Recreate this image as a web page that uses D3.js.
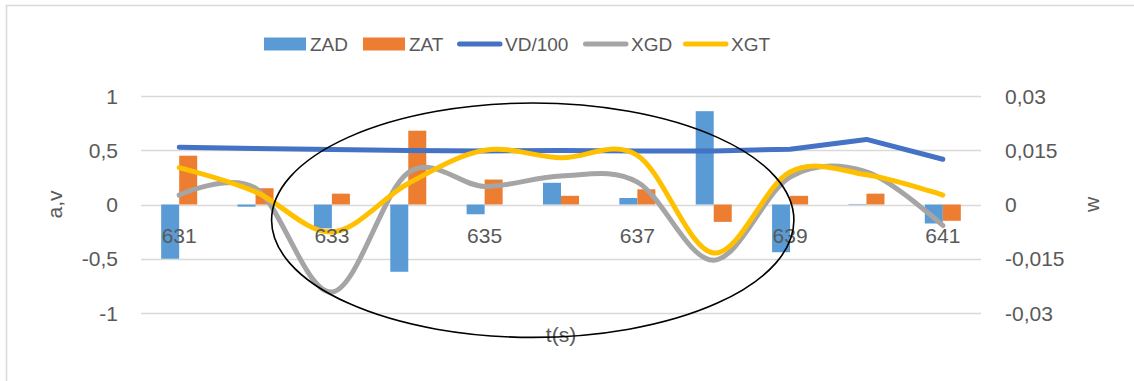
<!DOCTYPE html>
<html>
<head>
<meta charset="utf-8">
<script src="https://cdn.jsdelivr.net/npm/d3@7"></script>
<style>
  html, body { margin: 0; padding: 0; background: #ffffff; }
  svg { display: block; }
  text { font-family: "Liberation Sans", Arial, sans-serif; fill: #595959; }
</style>
</head>
<body>
<script>
// ---- data ----
const categories = ["631","632","633","634","635","636","637","638","639","640","641"];
const zad = [-0.50, -0.02, -0.22, -0.62, -0.09, 0.20, 0.06, 0.86, -0.44, 0.005, -0.175];
const zat = [0.45, 0.15, 0.10, 0.68, 0.23, 0.08, 0.14, -0.16, 0.08, 0.10, -0.15];
const vd100 = [0.528, 0.516, 0.507, 0.497, 0.494, 0.497, 0.494, 0.494, 0.51, 0.60, 0.417];
const xgd = [0.0026, 0.0045, -0.0242, 0.0088, 0.005, 0.0079, 0.0062, -0.0154, 0.0076, 0.009, -0.0058];
const xgt = [0.0102, 0.0035, -0.0076, 0.0058, 0.015, 0.0129, 0.0136, -0.0134, 0.009, 0.0082, 0.0026];
const leftTicks = [-1, -0.5, 0, 0.5, 1];
const rightTicks = [-0.03, -0.015, 0, 0.015, 0.03];
const xTickLabels = ["631","633","635","637","639","641"];
const seriesNames = ["ZAD","ZAT","VD/100","XGD","XGT"];

// ---- layout ----
const W = 1134, H = 381;
const plot = {left: 141, right: 981, top: 96, bottom: 313};
const colors = {ZAD: "#5B9BD5", ZAT: "#ED7D31", "VD/100": "#4472C4", XGD: "#A5A5A5", XGT: "#FFC000"};
const fmt = v => String(v).replace(".", ",");

const svg = d3.select("body").append("svg").attr("width", W).attr("height", H);

// chart border
svg.append("rect").attr("x", 6.5).attr("y", 5.5).attr("width", W + 20).attr("height", H + 20)
  .attr("fill", "none").attr("stroke", "#d9d9d9").attr("stroke-width", 1.5);

const x = d3.scaleBand().domain(categories).range([plot.left, plot.right]).paddingInner(0).paddingOuter(0);
const x1 = d3.scaleBand().domain(["ZAD","ZAT"]).range([0, x.bandwidth()]).paddingInner(0).paddingOuter(1.12);
const yL = d3.scaleLinear().domain([-1, 1]).range([plot.bottom, plot.top]);
const yR = d3.scaleLinear().domain([-0.03, 0.03]).range([plot.bottom, plot.top]);
const cx = c => x(c) + x.bandwidth() / 2;
const xIdx = d3.scaleLinear().domain([0, categories.length - 1]).range([cx(categories[0]), cx(categories[categories.length - 1])]);

// gridlines
svg.append("g").selectAll("line").data(leftTicks).join("line")
  .attr("x1", plot.left).attr("x2", plot.right)
  .attr("y1", d => Math.round(yL(d)) + 0.5).attr("y2", d => Math.round(yL(d)) + 0.5)
  .attr("stroke", "#d9d9d9").attr("stroke-width", 1.3);

// left axis labels
const fs = 21;
svg.append("g").selectAll("text").data(leftTicks).join("text")
  .attr("x", 118).attr("y", d => yL(d)).attr("dy", "0.36em")
  .attr("text-anchor", "end").style("font-size", fs + "px").text(fmt);
// right axis labels
svg.append("g").selectAll("text").data(rightTicks).join("text")
  .attr("x", 1005).attr("y", d => yR(d)).attr("dy", "0.36em")
  .attr("text-anchor", "start").style("font-size", fs + "px").text(fmt);

// axis titles
svg.append("text").attr("transform", `translate(62,${yL(0)}) rotate(-90)`)
  .attr("text-anchor", "middle").style("font-size", fs + "px").text("a,v");
svg.append("text").attr("transform", `translate(1099,${yL(0)}) rotate(-90)`)
  .attr("text-anchor", "middle").style("font-size", fs + "px").text("w");
svg.append("text").attr("x", 561).attr("y", 342)
  .attr("text-anchor", "middle").style("font-size", fs + "px").text("t(s)");

// bars
const barData = categories.flatMap((c, i) => [
  {c, s: "ZAD", v: zad[i]},
  {c, s: "ZAT", v: zat[i]}
]);
svg.append("g").selectAll("rect").data(barData).join("rect")
  .attr("x", d => x(d.c) + x1(d.s))
  .attr("width", x1.bandwidth())
  .attr("y", d => Math.min(yL(d.v), yL(0)))
  .attr("height", d => Math.abs(yL(d.v) - yL(0)))
  .attr("fill", d => colors[d.s]);

// lines
const lineStraight = d3.line().x((d, i) => xIdx(i)).y(d => yL(d));
const lineSmoothR = d3.line().x((d, i) => xIdx(i)).y(d => yR(d)).curve(d3.curveCardinal.tension(0));
const drawLine = (data, gen, color) => svg.append("path").datum(data).attr("d", gen)
  .attr("fill", "none").attr("stroke", color).attr("stroke-width", 5)
  .attr("stroke-linecap", "round").attr("stroke-linejoin", "round");
drawLine(vd100, lineStraight, colors["VD/100"]);
drawLine(xgd, lineSmoothR, colors.XGD);
drawLine(xgt, lineSmoothR, colors.XGT);

// x labels
svg.append("g").selectAll("text").data(xTickLabels).join("text")
  .attr("x", d => cx(d)).attr("y", yL(0) + 31).attr("dy", "0.36em")
  .attr("text-anchor", "middle").style("font-size", fs + "px").text(d => d);

// annotation ellipse
svg.append("ellipse")
  .attr("cx", xIdx(4.63)).attr("cy", yL(-0.145))
  .attr("rx", xIdx(3.42) - xIdx(0)).attr("ry", yL(0) - yL(1.08))
  .attr("fill", "none").attr("stroke", "#000").attr("stroke-width", 1.6);

// legend
const legendX = [264, 363, 457, 583, 683];
const legendY = 44;
const lg = svg.append("g");
seriesNames.forEach((name, i) => {
  const x0 = legendX[i];
  if (i < 2) {
    lg.append("rect").attr("x", x0).attr("y", legendY - 6.5).attr("width", 42).attr("height", 13).attr("fill", colors[name]);
  } else {
    lg.append("line").attr("x1", x0 + 2.5).attr("x2", x0 + 43).attr("y1", legendY).attr("y2", legendY)
      .attr("stroke", colors[name]).attr("stroke-width", 5).attr("stroke-linecap", "round");
  }
  lg.append("text").attr("x", x0 + (i < 2 ? 46 : 48)).attr("y", legendY).attr("dy", "0.36em")
    .style("font-size", "19px").text(name);
});
</script>
</body>
</html>
